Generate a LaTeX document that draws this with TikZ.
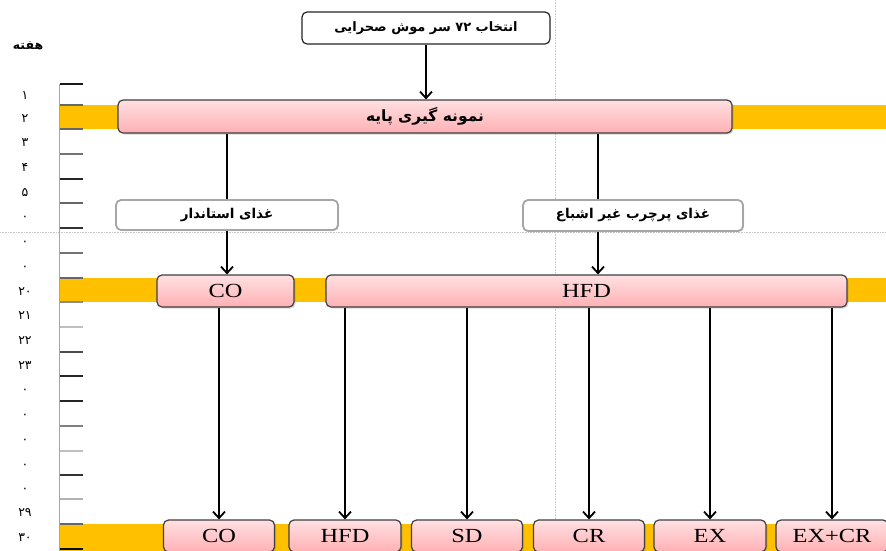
\documentclass[tikz,border=0pt]{standalone}
\usepackage{fontspec}
\TeXXeTstate=1
\newfontfamily\fa[Script=Arabic]{DejaVu Sans}
\newfontfamily\lat[FakeStretch=1.22]{Liberation Serif}
\usetikzlibrary{arrows.meta,shadows}
\definecolor{band}{RGB}{255,192,0}
\definecolor{pinktop}{RGB}{255,224,226}
\definecolor{pinkbot}{RGB}{255,176,180}
\definecolor{edge}{RGB}{64,64,64}
\begin{document}
\begin{tikzpicture}[x=1pt,y=-1pt,
  pinkbox/.style={draw=edge, line width=1.2pt, rounded corners=5pt, top color=pinktop, bottom color=pinkbot,
    drop shadow={shadow xshift=1.5pt, shadow yshift=-1.5pt, opacity=0.3}, inner sep=0pt,
    font=\lat\fontsize{20}{22}\selectfont},
  whitebox/.style={draw=black!35, line width=1.8pt, rounded corners=5pt, fill=white,
    drop shadow={shadow xshift=1pt, shadow yshift=-1pt, opacity=0.25}, inner sep=0pt,
    font=\fa\bfseries\fontsize{13.5}{15}\selectfont},
  topbox/.style={draw=black!85, line width=1.2pt, rounded corners=5pt, fill=white, inner sep=0pt,
    font=\fa\bfseries\fontsize{13}{15}\selectfont},
  conn/.style={line width=1.8pt, black},
  arr/.style={conn, -{Straight Barb[length=6.5pt,width=12pt]}},
  tick/.style={line width=1.2pt},
  axlab/.style={font=\fa\fontsize{12.5}{14}\selectfont, anchor=base, inner sep=0pt},
  guide/.style={densely dotted, line width=0.6pt, black!22}
]
\useasboundingbox (0,0) rectangle (886,550);
\fill[white] (0,0) rectangle (886,550);

% guides
\draw[guide] (0,232) -- (886,232);
\draw[guide] (555.5,0) -- (555.5,550);

% bands
\fill[band] (60,105) rectangle (886,129);
\fill[band] (60,278) rectangle (886,302);
\fill[band] (60,524) rectangle (886,552);

% axis
\draw[black!35, line width=1.6pt] (59.5,84) -- (59.5,552);
\foreach \yy/\cc in {84/black!90,105/black!60,129/black!60,154/black!55,179/black!85,203/black!60,228/black!80,
  253/black!55,278/black!60,302/black!45,327/black!25,352/black!70,376/black!85,401/black!85,426/black!50,
  451/black!25,475/black!80,499/black!30,524/black!60,549/black!95}
  \draw[tick,\cc] (60,\yy) -- (83,\yy);

\node[font=\fa\bfseries\fontsize{12.5}{14}\selectfont] (hafte) at (28,46) {هفته};
\foreach \yy/\tt [count=\i] in {94/۱,117/۲,141/۳,166/۴,191/۵,215/۰,240/۰,265/۰,290/۲۰,314/۲۱,339/۲۲,364/۲۳,
  388/۰,413/۰,438/۰,463/۰,487/۰,511/۲۹,536/۳۰}
  \node[axlab] (lab\i) at (25,\yy+5) {\tt};

% boxes
\node[topbox, minimum width=248pt, minimum height=32pt] (top) at (426,28) {\beginR انتخاب ۷۲ سر موش صحرایی\endR};
\node[pinkbox, minimum width=614pt, minimum height=33pt, font=\fa\bfseries\fontsize{15.5}{17}\selectfont] (base) at (425,116.5) {\beginR نمونه گیری پایه\endR};
\node[whitebox, minimum width=222pt, minimum height=30pt] (std) at (227,215) {\beginR غذای استاندار\endR};
\node[whitebox, minimum width=220pt, minimum height=31pt] (hfdiet) at (633,215.5) {\beginR غذای پرچرب غیر اشباع\endR};
\node[pinkbox, minimum width=137pt, minimum height=32pt] (co1) at (225.5,291) {CO};
\node[pinkbox, minimum width=521pt, minimum height=32pt] (hfd1) at (586.5,291) {HFD};
\node[pinkbox, minimum width=111pt, minimum height=32pt] (bCO) at (219,536) {CO};
\node[pinkbox, minimum width=112pt, minimum height=32pt] (bHFD) at (345,536) {HFD};
\node[pinkbox, minimum width=111pt, minimum height=32pt] (bSD) at (467,536) {SD};
\node[pinkbox, minimum width=111pt, minimum height=32pt] (bCR) at (589,536) {CR};
\node[pinkbox, minimum width=112pt, minimum height=32pt] (bEX) at (710,536) {EX};
\node[pinkbox, minimum width=112pt, minimum height=32pt] (bEXCR) at (832,536) {EX+CR};

\coordinate (xr) at (598,0);

% connectors
\draw[arr] (top.south) -- (top.south |- base.north);
\draw[conn] (base.south -| std.north) -- (std.north);
\draw[conn] (base.south -| xr) -- (hfdiet.north -| xr);
\draw[arr] (std.south) -- (std.south |- co1.north);
\draw[arr] (hfdiet.south -| xr) -- (hfd1.north -| xr);
\draw[arr] (co1.south -| bCO.north) -- (bCO.north);
\draw[arr] (hfd1.south -| bHFD.north) -- (bHFD.north);
\draw[arr] (hfd1.south -| bSD.north) -- (bSD.north);
\draw[arr] (hfd1.south -| bCR.north) -- (bCR.north);
\draw[arr] (hfd1.south -| bEX.north) -- (bEX.north);
\draw[arr] (hfd1.south -| bEXCR.north) -- (bEXCR.north);
\end{tikzpicture}
\end{document}
